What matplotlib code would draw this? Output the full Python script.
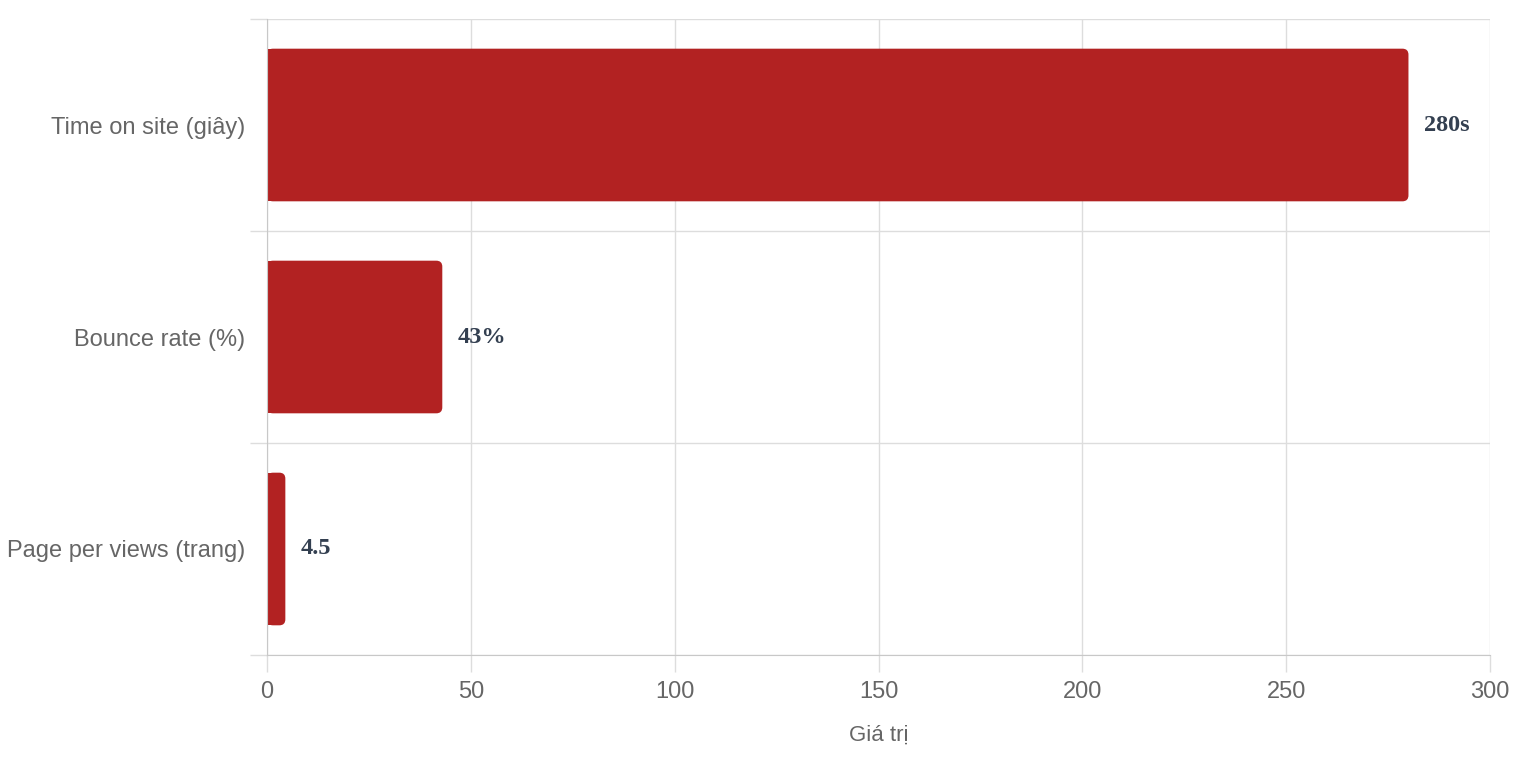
import matplotlib
matplotlib.use("Agg")
import matplotlib.pyplot as plt
from matplotlib.patches import FancyBboxPatch, Rectangle
from matplotlib.ticker import FixedLocator

categories = ["Time on site (giây)", "Bounce rate (%)", "Page per views (trang)"]
values = [280, 43, 4.5]
value_labels = ["280s", "43%", "4.5"]
x_ticks = [0, 50, 100, 150, 200, 250, 300]
x_label = "Giá trị"

BAR_COLOR = "#b22222"
GRID = "#dddddd"
AXIS = "#c8c8c8"
TEXT = "#666666"

W, H = 1516, 758
fig = plt.figure(figsize=(W / 100, H / 100), dpi=100)
ax_l, ax_r, ax_t, ax_b = 267, 1490, 19, 655
ax = fig.add_axes([ax_l / W, 1 - ax_b / H, (ax_r - ax_l) / W, (ax_b - ax_t) / H])

ypos = list(range(len(categories)))
bar_h = 0.72
ax.set_xlim(0, 300)
ax.set_ylim(len(categories) - 0.5, -0.5)

bars = ax.barh(ypos, values, height=bar_h, color=BAR_COLOR, zorder=3)

# rounded right corners
px_x = 300 / (ax_r - ax_l)
px_y = 3 / (ax_b - ax_t)
r_px = 6
for b in bars:
    x0, y0 = b.get_x(), b.get_y()
    w, h = b.get_width(), b.get_height()
    b.set_visible(False)
    fb = FancyBboxPatch((x0, y0), w, h,
                        boxstyle=f"round,pad=0,rounding_size={r_px * px_x}",
                        mutation_aspect=px_y / px_x,
                        facecolor=BAR_COLOR, edgecolor="none", zorder=3)
    ax.add_patch(fb)
    ax.add_patch(Rectangle((x0, y0), w / 2, h, facecolor=BAR_COLOR,
                           edgecolor="none", zorder=3))

for yv, v, lab in zip(ypos, values, value_labels):
    ax.annotate(lab, (v, yv), xytext=(11, 0), textcoords="offset points",
                va="center", ha="left", fontsize=17.5, fontweight="bold",
                family="Liberation Serif", color="#333f50", zorder=4)

ax.set_yticks(ypos)
ax.set_yticklabels(categories)
ax.yaxis.set_minor_locator(FixedLocator([i - 0.5 for i in range(len(categories) + 1)]))
ax.set_xticks(x_ticks)

ax.tick_params(axis="y", which="major", length=0, pad=16, labelsize=17,
               labelcolor=TEXT)
ax.tick_params(axis="y", which="minor", length=12, color=GRID, width=1)
ax.tick_params(axis="x", which="major", length=12, color=GRID, width=1,
               pad=7, labelsize=17, labelcolor=TEXT)
for lab in ax.get_xticklabels() + ax.get_yticklabels():
    lab.set_family("Liberation Sans")

ax.grid(axis="x", which="major", color=GRID, linewidth=1, zorder=0)
ax.grid(axis="y", which="minor", color=GRID, linewidth=1, zorder=0)
ax.grid(axis="y", which="major", visible=False)
ax.set_axisbelow(True)

for s in ["top", "right"]:
    ax.spines[s].set_visible(False)
ax.spines["left"].set_color(AXIS)
ax.spines["bottom"].set_color(AXIS)
ax.spines["left"].set_zorder(5)

ax.set_xlabel(x_label, fontsize=16, color=TEXT, family="Liberation Sans",
              labelpad=15)

fig.savefig("out.png", dpi=100)
